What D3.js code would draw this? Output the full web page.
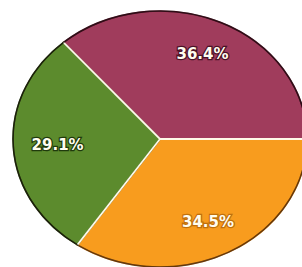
<!DOCTYPE html>
<html>
<head>
<meta charset="utf-8">
<script src="https://cdn.jsdelivr.net/npm/d3@7"></script>
<style>
  html, body { margin: 0; padding: 0; background: #fff; }
  svg { display: block; }
</style>
</head>
<body>
<div id="chart"></div>
<script>
// Data
const categories = ['A', 'B', 'C'];
const values = [36.4, 34.5, 29.1];
const labels = ['36.4%', '34.5%', '29.1%'];
const colors = ['#a03c5c', '#f89c1e', '#5c8b2d'];
const outlineColors = ['#4a1226', '#c0700c', '#1f3a0c'];

const width = 302;
const height = 267;
const cx = 160;
const cy = 139;
const r = 128;
const stretchX = 147 / 128;

const svg = d3.select('#chart')
  .append('svg')
  .attr('width', width)
  .attr('height', height);

// Pie laid out in a circle, then stretched horizontally into an ellipse
const g = svg.append('g')
  .attr('transform', `translate(${cx},${cy}) scale(${stretchX},1)`);

const start = Math.PI / 2 - (values[0] / 100) * 2 * Math.PI;
const pie = d3.pie()
  .sort(null)
  .value(d => d)
  .startAngle(start)
  .endAngle(start + 2 * Math.PI);

const arcs = pie(values);
const arc = d3.arc().innerRadius(0).outerRadius(r);
const labelArc = d3.arc().innerRadius(94).outerRadius(94);

g.selectAll('path.slice')
  .data(arcs)
  .enter()
  .append('path')
  .attr('class', 'slice')
  .attr('d', arc)
  .attr('fill', (d, i) => colors[i])
  .attr('stroke', (d, i) => outlineColors[i])
  .attr('stroke-width', 1.6)
  .attr('vector-effect', 'non-scaling-stroke');

// White separator lines between slices
g.selectAll('line.sep')
  .data(arcs)
  .enter()
  .append('line')
  .attr('class', 'sep')
  .attr('x1', 0)
  .attr('y1', 0)
  .attr('x2', d => Math.sin(d.startAngle) * r)
  .attr('y2', d => -Math.cos(d.startAngle) * r)
  .attr('stroke', '#fffbe8')
  .attr('stroke-width', 1.8)
  .attr('vector-effect', 'non-scaling-stroke');

// Outer rim
g.append('circle')
  .attr('r', r)
  .attr('fill', 'none')
  .attr('stroke', '#1a0a0a')
  .attr('stroke-opacity', 0.55)
  .attr('stroke-width', 1.4)
  .attr('vector-effect', 'non-scaling-stroke');

// Percentage labels
svg.selectAll('text.label')
  .data(arcs)
  .enter()
  .append('text')
  .attr('class', 'label')
  .attr('x', d => cx + labelArc.centroid(d)[0] * stretchX * 0.95)
  .attr('y', d => cy + labelArc.centroid(d)[1])
  .attr('dy', '0.35em')
  .attr('text-anchor', 'middle')
  .attr('font-family', 'DejaVu Sans, Verdana, sans-serif')
  .attr('font-weight', 'bold')
  .attr('font-size', 15)
  .attr('fill', '#fffdf0')
  .attr('stroke', (d, i) => outlineColors[i])
  .attr('stroke-width', 2.5)
  .attr('paint-order', 'stroke')
  .text((d, i) => labels[i]);
</script>
</body>
</html>
